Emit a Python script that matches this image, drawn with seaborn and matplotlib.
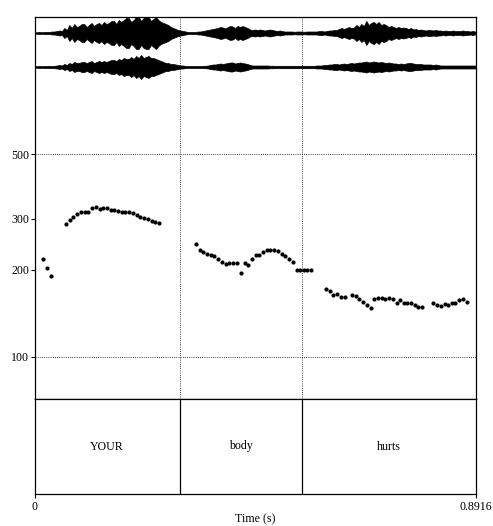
import numpy as np
import pandas as pd
import matplotlib
matplotlib.use("Agg")
import matplotlib.pyplot as plt
import seaborn as sns

# ---------------- data ----------------
duration = 0.8916
words = ["YOUR", "body", "hurts"]
word_bounds = [0.0, 0.2930, 0.5407, 0.8916]

pitch_ticks = [100, 200, 300, 500]
pitch_grid = [100, 500]

f0_times = [0.017, 0.025, 0.033,
            0.063, 0.071, 0.078, 0.086, 0.094, 0.101, 0.108, 0.116, 0.124, 0.131,
            0.139, 0.146, 0.154, 0.161, 0.168, 0.176, 0.183, 0.191, 0.199, 0.206,
            0.213, 0.221, 0.228, 0.236, 0.243, 0.251,
            0.326, 0.333, 0.341, 0.348, 0.356, 0.363, 0.370, 0.378, 0.386, 0.393,
            0.401, 0.408, 0.416, 0.424, 0.431, 0.439, 0.447, 0.454, 0.461, 0.469,
            0.476, 0.484, 0.492, 0.499, 0.506, 0.514, 0.521, 0.529, 0.536, 0.544,
            0.551, 0.558,
            0.589, 0.596, 0.603, 0.611, 0.618, 0.626,
            0.641, 0.649, 0.656, 0.663, 0.671, 0.679, 0.686, 0.694, 0.701, 0.708,
            0.716, 0.723, 0.731, 0.738, 0.746, 0.753, 0.760, 0.768, 0.775, 0.783,
            0.805, 0.813, 0.820, 0.828, 0.835, 0.843, 0.850, 0.857, 0.865, 0.873]
f0_values = [218, 202, 190,
             288, 297, 304, 311, 315, 317, 317, 327, 329, 325,
             327, 326, 321, 320, 318, 317, 315, 317, 314, 309,
             304, 302, 299, 294, 291, 290,
             245, 234, 230, 227, 225, 222, 217, 212, 209, 211,
             211, 210, 194, 211, 207, 217, 224, 225, 230, 234,
             234, 233, 232, 226, 223, 217, 213, 200, 200, 200,
             200, 200,
             171, 169, 164, 165, 161, 161,
             163, 162, 159, 155, 151, 147, 159, 160, 160, 159,
             160, 159, 154, 157, 154, 154, 154, 151, 149, 149,
             153, 151, 150, 152, 151, 153, 154, 157, 158, 155]

# waveform envelope (amplitude, arbitrary units) sampled every 5 ms,
# peaks and troughs read from the picture
env_times = [k * 0.005 for k in range(179)]
env_ch1 = [0.5, 0.8, 1, 0.8, 1, 1.2, 1, 1.5, 1.5, 2,
           2.5, 2, 5, 3, 8, 5, 9, 6, 7, 9,
           9, 6, 8, 10, 7, 9, 10, 8, 11, 9,
           10, 12, 12, 9, 13, 11, 13, 15, 15, 11,
           13, 16, 16, 12, 15, 16, 16, 12, 14, 16,
           13, 11, 10, 9, 8, 6, 5, 4, 3, 2.5,
           2, 1.5, 1, 1, 1, 1, 1.5, 1.5, 2, 2.5,
           3, 3.5, 4, 4.5, 5, 6, 5.5, 4.5, 6, 7,
           6.5, 5, 7, 6, 7, 6, 5, 3.5, 3, 3.5,
           3, 3.5, 3, 2.5, 3, 3.5, 3, 2.5, 2, 2.5,
           2, 1.5, 1.5, 1.5, 1.5, 1.2, 1.5, 1.5, 1.5, 1.2,
           1.5, 1.5, 1.5, 1.5, 1.5, 2, 2, 1.5, 2, 2.5,
           2.5, 3, 3, 4, 5, 4, 5, 6, 5, 5.5,
           8, 6, 9, 7, 12, 8, 10, 11, 9, 11,
           8, 9, 8, 6, 7, 6, 5, 6, 5, 5.5,
           5, 4, 5, 3.5, 4, 3, 3.5, 3, 2.5, 3,
           3, 2.5, 3, 2.5, 2.5, 2, 2.5, 2, 2, 2.5,
           2, 2, 2, 2.5, 2, 2, 1.5, 2, 1.5]
env_ch2 = [0.7, 0.8, 1, 0.8, 1, 1, 1.2, 1, 1.2, 1.5,
           2, 1.5, 3, 2, 4, 3, 5, 4, 4, 5,
           5, 4, 5, 6, 4, 5, 6, 5, 6, 5,
           6, 7, 7, 6, 8, 7, 9, 8, 8, 10,
           8, 11, 9, 12, 9, 10, 11, 9, 9, 8,
           7, 6, 5, 4, 4, 3, 3, 2.5, 2, 1.5,
           1.5, 1, 1, 1, 1, 1, 1, 1, 1.2, 1.2,
           1.5, 2, 2.5, 2.5, 3, 3.5, 3, 3.5, 4, 4.5,
           4.5, 3.5, 4, 4.5, 4, 3.5, 3, 2, 1.5, 1.5,
           1.5, 1.5, 1.5, 1.5, 1.5, 1.3, 1.3, 1.2, 1.2, 1.2,
           1.2, 1.2, 1.2, 1.2, 1.2, 1.2, 1.2, 1.2, 1.2, 1.2,
           1.2, 1.2, 1.2, 1.2, 1.5, 1.5, 1.5, 2, 2, 2.5,
           2.5, 3, 3, 2.5, 3, 3.5, 3, 3.5, 4, 3.5,
           4, 4.5, 4.5, 5, 5.5, 4.5, 5, 5.5, 5, 4.5,
           5, 4.5, 4, 4.5, 4, 3.5, 3.5, 3, 3.5, 3,
           3.5, 4, 4, 3.5, 3, 3, 3, 2.5, 2.5, 2.5,
           2.5, 2, 2.5, 2, 1.5, 1.5, 1.5, 1.5, 1.5, 1.5,
           1.5, 1.5, 1.5, 1.5, 1.5, 1.5, 1.5, 1.5, 1.5]

# ---------------- style ----------------
sns.set_theme(style="white")
plt.rcParams["font.family"] = ["Liberation Serif", "DejaVu Serif"]
plt.rcParams["font.size"] = 8.6

W, H = 493, 526
fig = plt.figure(figsize=(W / 100, H / 100), dpi=100)

def fx(px):
    return px / W

def fy(py):
    return 1 - py / H

left_px, right_px = 34.7, 476.0
top_px, tier_top_px, bottom_px = 17.0, 399.0, 494.0

dot_style = dict(color="black", linestyle=(0, (1, 1.6)), linewidth=0.6)
frame_lw = 0.9

# pitch axes (spans whole upper frame)
ax_p = fig.add_axes([fx(left_px), fy(tier_top_px), fx(right_px - left_px),
                     (tier_top_px - top_px) / H])
df = pd.DataFrame({"time": f0_times, "f0": f0_values})
sns.scatterplot(data=df, x="time", y="f0", ax=ax_p, color="black", s=9,
                linewidth=0, legend=False, zorder=3)
ax_p.set_yscale("log")
ax_p.set_ylim(71.6, 1487)
ax_p.set_xlim(0, duration)
ax_p.set_yticks(pitch_ticks)
ax_p.set_yticklabels([str(v) for v in pitch_ticks])
ax_p.yaxis.set_minor_locator(matplotlib.ticker.NullLocator())
ax_p.set_xticks([])
ax_p.set_xlabel("")
ax_p.set_ylabel("")
ax_p.tick_params(axis="y", direction="out", length=3, width=0.8, pad=1,
                 labelsize=8.6, left=True, colors="black")
for v in pitch_grid:
    ax_p.axhline(v, **dot_style)
for b in word_bounds[1:-1]:
    ax_p.axvline(b, **dot_style)
for s in ax_p.spines.values():
    s.set_color("black")
    s.set_linewidth(frame_lw)

# waveform overlay
ax_w = fig.add_axes([fx(left_px), fy(84), fx(right_px - left_px), 68 / H])
ax_w.set_xlim(0, duration)
ax_w.set_ylim(-34, 34)
et = np.array(env_times)
mask = et <= duration
e1 = np.array(env_ch1)
e2 = np.array(env_ch2)
ax_w.fill_between(et[mask], 17 - e1[mask], 17 + e1[mask], color="black",
                  linewidth=0.5, edgecolor="black")
ax_w.fill_between(et[mask], -17 - e2[mask], -17 + e2[mask], color="black",
                  linewidth=0.5, edgecolor="black")
ax_w.axis("off")
ax_w.patch.set_alpha(0)

# text grid tier
ax_t = fig.add_axes([fx(left_px), fy(bottom_px), fx(right_px - left_px),
                     (bottom_px - tier_top_px) / H])
ax_t.set_xlim(0, duration)
ax_t.set_ylim(0, 1)
for b in word_bounds[1:-1]:
    ax_t.axvline(b, color="black", linewidth=0.9)
for w, a, b in zip(words, word_bounds[:-1], word_bounds[1:]):
    ax_t.text((a + b) / 2, 0.5, w, ha="center", va="center", fontsize=8.6,
              color="black")
ax_t.set_yticks([])
ax_t.set_xticks([0, duration])
ax_t.set_xticklabels(["0", "0.8916"])
ax_t.tick_params(axis="x", direction="out", length=3, width=0.8, pad=2,
                 labelsize=8.6, bottom=True, colors="black")
ax_t.set_xlabel("")
fig.text(fx((left_px + right_px) / 2), fy(519.5), "Time (s)", ha="center",
         va="center", fontsize=8.6, color="black")
for s in ax_t.spines.values():
    s.set_color("black")
    s.set_linewidth(frame_lw)

fig.savefig("out.png", dpi=100, facecolor="white")
